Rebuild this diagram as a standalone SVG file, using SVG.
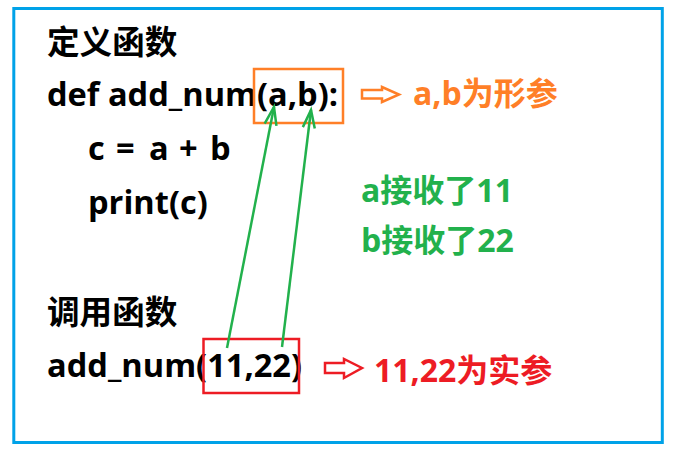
<svg xmlns="http://www.w3.org/2000/svg" width="681" height="456" viewBox="0 0 681 456">
<style>
  .t { font-family: "Open Sans", "Noto Sans CJK SC", sans-serif; font-weight: bold; font-size: 32px; }
  .k { fill: #000000; font-size: 32.6px; }
  .o { fill: #FF7F27; }
  .r { fill: #ED1C24; }
  .g { fill: #22B14C; }
  .ln { fill: none; stroke: #22B14C; stroke-width: 2.5; }
</style>
<defs>
  <marker id="vhead" markerUnits="userSpaceOnUse" markerWidth="24" markerHeight="16" viewBox="-20 -8 24 16" refX="0" refY="0" orient="auto">
    <path d="M-18,-6 L0,0 L-18,6" fill="none" stroke="#22B14C" stroke-width="2.5"/>
  </marker>
</defs>
<rect x="0" y="0" width="681" height="456" fill="#ffffff"/>
<rect id="frame" x="13.8" y="8.5" width="648.5" height="434" fill="none" stroke="#00A2E8" stroke-width="3"/>

<g id="define-title"><text class="t k" x="47" y="54">定义函数</text></g>
<g id="def-line"><text class="t k" x="47" y="106">def add_num(a,b):</text></g>
<g id="body-line1"><text class="t k" y="160"><tspan x="88">c</tspan><tspan x="116">=</tspan><tspan x="149">a</tspan><tspan x="179">+</tspan><tspan x="210">b</tspan></text></g>
<g id="body-line2"><text class="t k" x="88" y="214">print(c)</text></g>
<g id="call-title"><text class="t k" x="47" y="324">调用函数</text></g>
<g id="call-line"><text class="t k" x="47" y="377">add_num(11,22)</text></g>

<g id="formal-box"><rect x="254" y="69" width="89" height="54" fill="none" stroke="#FF7F27" stroke-width="2.5"/></g>
<g id="formal-arrow"><polygon points="362,90 382,90 382,87 399,94.5 382,102 382,98.5 362,98.5" fill="none" stroke="#FF7F27" stroke-width="2.5"/></g>
<g id="formal-label"><text class="t o" x="413" y="105">a,b为形参</text></g>

<g id="actual-box"><rect x="203.5" y="339" width="95.5" height="54" fill="none" stroke="#ED1C24" stroke-width="2.5"/></g>
<g id="actual-arrow"><polygon points="325,363 344,363 344,359 362,368 344,378 344,373 325,373" fill="none" stroke="#ED1C24" stroke-width="2.5"/></g>
<g id="actual-label"><text class="t r" x="374" y="382" font-size="32.6">11,22为实参</text></g>

<g id="note-a"><text class="t g" x="361" y="202">a接收了11</text></g>
<g id="note-b"><text class="t g" x="361" y="252">b接收了22</text></g>

<g id="connectors">
  <line class="ln" x1="227" y1="348" x2="274" y2="107" marker-end="url(#vhead)"/>
  <line class="ln" x1="282" y1="347" x2="311" y2="110" marker-end="url(#vhead)"/>
</g>
</svg>
